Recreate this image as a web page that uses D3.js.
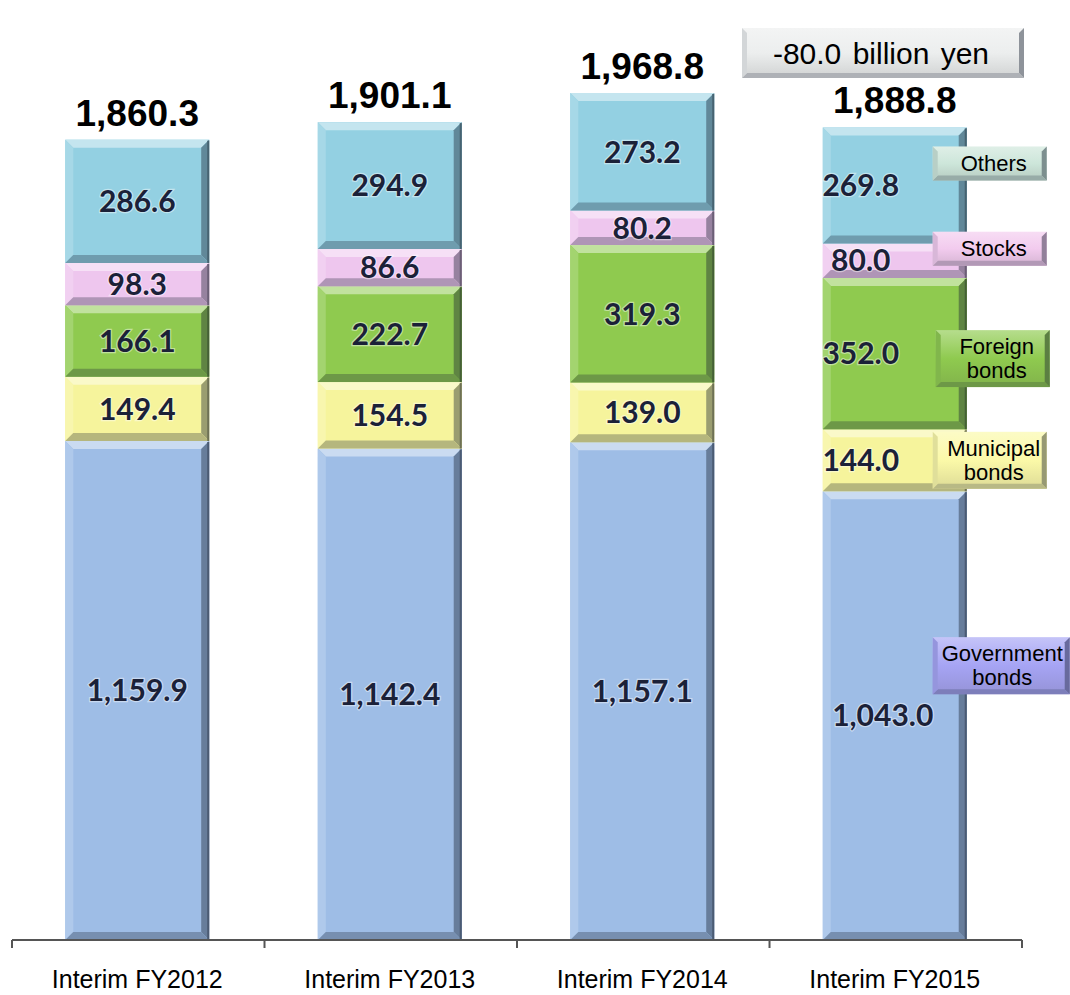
<!DOCTYPE html>
<html>
<head>
<meta charset="utf-8">
<script src="https://cdn.jsdelivr.net/npm/d3@7"></script>
<style>
  html, body { margin: 0; padding: 0; background: #ffffff; }
  svg { display: block; }
</style>
</head>
<body>
<svg id="chart" width="1070" height="995"></svg>
<script>
// Holdings by asset type, billion yen (stack order: bottom to top)
const categories = ["Interim FY2012", "Interim FY2013", "Interim FY2014", "Interim FY2015"];
const seriesNames = ["Government bonds", "Municipal bonds", "Foreign bonds", "Stocks", "Others"];
const governmentBonds = [1159.9, 1142.4, 1157.1, 1043.0];
const municipalBonds  = [149.4, 154.5, 139.0, 144.0];
const foreignBonds    = [166.1, 222.7, 319.3, 352.0];
const stocks          = [98.3, 86.6, 80.2, 80.0];
const others          = [286.6, 294.9, 273.2, 269.8];
const totals          = [1860.3, 1901.1, 1968.8, 1888.8];

const seriesValues = [governmentBonds, municipalBonds, foreignBonds, stocks, others];

// Styling
const fills = ["#9ebde6", "#f6f49c", "#8fca4f", "#eec6ee", "#93d0e2"];
const tagFills = ["#a6a4f4", "#fbf9a8", "#8fca4f", "#f2cbee", "#cde6da"];
const tagLines = [["Government", "bonds"], ["Municipal", "bonds"], ["Foreign", "bonds"], ["Stocks"], ["Others"]];
const tagShift = [-50, 0, 5, -12, -22];   // vertical nudge of series tags next to the last bar

const svg = d3.select("#chart");

const locale = d3.formatLocale({ decimal: ".", thousands: ",", grouping: [3], currency: ["", ""], minus: "-" });
const fmt = locale.format(",.1f");

const x = d3.scaleBand()
  .domain(categories)
  .range([12, 1020])
  .paddingInner(0.43)
  .paddingOuter(0.211);

const y = d3.scaleLinear()
  .domain([0, 1968.8])
  .range([940, 93]);

// Build stacked rows
const rows = categories.map((c, i) => {
  const r = { category: c };
  seriesNames.forEach((s, k) => { r[s] = seriesValues[k][i]; });
  return r;
});
const stacked = d3.stack().keys(seriesNames)(rows);

const mix = (a, b, t) => d3.interpolateRgb(a, b)(t);

// Bevelled segment drawing
function bevelSegment(g, x0, y0, x1, y1, color, b) {
  const h = y1 - y0;
  const bb = Math.min(b, h / 2.2);
  g.append("rect").attr("x", x0).attr("y", y0).attr("width", x1 - x0).attr("height", h)
    .attr("fill", color);
  // top
  g.append("polygon")
    .attr("points", [[x0, y0], [x1, y0], [x1 - bb, y0 + bb], [x0 + bb, y0 + bb]].join(" "))
    .attr("fill", mix(color, "#ffffff", 0.45));
  // left
  g.append("polygon")
    .attr("points", [[x0, y0], [x0 + bb, y0 + bb], [x0 + bb, y1 - bb], [x0, y1]].join(" "))
    .attr("fill", mix(color, "#ffffff", 0.18));
  // right
  g.append("polygon")
    .attr("points", [[x1, y0], [x1, y1], [x1 - bb, y1 - bb], [x1 - bb, y0 + bb]].join(" "))
    .attr("fill", mix(color, "#1c2433", 0.42));
  // bottom
  g.append("polygon")
    .attr("points", [[x0, y1], [x1, y1], [x1 - bb, y1 - bb], [x0 + bb, y1 - bb]].join(" "))
    .attr("fill", mix(color, "#1c2433", 0.3));
  // dark outer right edge
  g.append("line").attr("x1", x1 - 1).attr("x2", x1 - 1).attr("y1", y0 + 1).attr("y2", y1)
    .attr("stroke", mix(color, "#141a26", 0.6)).attr("stroke-width", 2);
}

const barsG = svg.append("g");
stacked.forEach((layer, k) => {
  layer.forEach((d, i) => {
    const c = categories[i];
    const x0 = x(c), x1 = x(c) + x.bandwidth();
    bevelSegment(barsG.append("g"), x0, y(d[1]), x1, y(d[0]), fills[k], 8);
  });
});

// Value labels inside segments
const labelsG = svg.append("g")
  .attr("font-family", "Lato, 'Open Sans', sans-serif")
  .attr("font-weight", 700)
  .attr("font-size", 30)
  .attr("fill", "#1b2138")
  .attr("text-anchor", "middle");
const lastIdx = categories.length - 1;
stacked.forEach((layer, k) => {
  layer.forEach((d, i) => {
    const c = categories[i];
    let cx = x(c) + x.bandwidth() / 2;
    if (i === lastIdx) cx += (k === 0 ? -12 : -34);
    const cy = (y(d[0]) + y(d[1])) / 2;
    labelsG.append("text")
      .attr("x", cx).attr("y", cy)
      .attr("dy", "0.36em")
      .attr("stroke", "#ffffff").attr("stroke-opacity", 0.45).attr("stroke-width", 2.5)
      .attr("paint-order", "stroke")
      .text(fmt(d.data[seriesNames[k]]));
  });
});

// Totals above bars
svg.append("g")
  .attr("font-family", "'Liberation Sans', Arial, sans-serif")
  .attr("font-weight", 700)
  .attr("font-size", 37)
  .attr("fill", "#000")
  .attr("text-anchor", "middle")
  .selectAll("text")
  .data(totals)
  .join("text")
  .attr("x", (d, i) => x(categories[i]) + x.bandwidth() / 2)
  .attr("y", d => y(d) - 14)
  .text(d => fmt(d));

// Axis line with boundary ticks
const step = x.step();
const axisG = svg.append("g").attr("stroke", "#555").attr("stroke-width", 2);
const x0Axis = x(categories[0]) - x.paddingOuter() * step;
axisG.append("line")
  .attr("x1", x0Axis).attr("x2", x0Axis + step * categories.length)
  .attr("y1", y(0)).attr("y2", y(0));
d3.range(categories.length + 1).forEach(i => {
  const tx = x0Axis + i * step;
  axisG.append("line").attr("x1", tx).attr("x2", tx).attr("y1", y(0)).attr("y2", y(0) + 8);
});

// Category labels
svg.append("g")
  .attr("font-family", "'Liberation Sans', Arial, sans-serif")
  .attr("font-size", 25)
  .attr("fill", "#000")
  .attr("text-anchor", "middle")
  .selectAll("text")
  .data(categories)
  .join("text")
  .attr("x", d => x(d) + x.bandwidth() / 2)
  .attr("y", 988)
  .text(d => d);

// Series tags next to the last bar
const defs = svg.append("defs");
function tagBox(g, bx, by, bw, bh, color) {
  const id = "tg" + Math.round(bx) + "_" + Math.round(by);
  const grad = defs.append("linearGradient").attr("id", id).attr("x1", 0).attr("y1", 0).attr("x2", 0).attr("y2", 1);
  grad.append("stop").attr("offset", 0).attr("stop-color", mix(color, "#ffffff", 0.35));
  grad.append("stop").attr("offset", 0.5).attr("stop-color", color);
  grad.append("stop").attr("offset", 1).attr("stop-color", mix(color, "#333", 0.15));
  g.append("rect").attr("x", bx).attr("y", by).attr("width", bw).attr("height", bh)
    .attr("fill", `url(#${id})`);
  const b = 5;
  g.append("polygon")
    .attr("points", [[bx + bw, by], [bx + bw, by + bh], [bx + bw - b, by + bh - b], [bx + bw - b, by + b]].join(" "))
    .attr("fill", mix(color, "#1c2433", 0.45));
  g.append("polygon")
    .attr("points", [[bx, by + bh], [bx + bw, by + bh], [bx + bw - b, by + bh - b], [bx + b, by + bh - b]].join(" "))
    .attr("fill", mix(color, "#1c2433", 0.3));
  g.append("polygon")
    .attr("points", [[bx, by], [bx + b, by + b], [bx + b, by + bh - b], [bx, by + bh]].join(" "))
    .attr("fill", mix(color, "#1c2433", 0.12));
}

const tagsG = svg.append("g");
const lastBarRight = x(categories[lastIdx]) + x.bandwidth();
stacked.forEach((layer, k) => {
  const d = layer[lastIdx];
  const cy = (y(d[0]) + y(d[1])) / 2 + tagShift[k];
  const lines = tagLines[k];
  const bh = lines.length === 1 ? 34 : 57;
  const bw = k === 0 ? 137 : 114;
  const bx = lastBarRight - 34 + (k === 2 ? 3 : 0);
  const by = cy - bh / 2;
  const g = tagsG.append("g");
  tagBox(g, bx, by, bw, bh, tagFills[k]);
  const t = g.append("text")
    .attr("font-family", "'Liberation Sans', Arial, sans-serif")
    .attr("font-size", 22)
    .attr("fill", "#000")
    .attr("text-anchor", "middle");
  lines.forEach((ln, j) => {
    t.append("tspan")
      .attr("x", bx + bw / 2 + (k === 0 ? 1 : 4))
      .attr("y", cy + (j - (lines.length - 1) / 2) * 24 + 7.5)
      .text(ln);
  });
});

// Change between the last two periods
const change = totals[lastIdx] - totals[lastIdx - 1];
const cg = svg.append("g");
tagBox(cg, 742, 28, 282, 50, "#eceeee");
cg.append("text")
  .attr("x", 742 + 282 / 2 - 2).attr("y", 64)
  .attr("font-family", "'Liberation Sans', Arial, sans-serif")
  .attr("font-size", 30)
  .attr("word-spacing", 3)
  .attr("fill", "#000")
  .attr("text-anchor", "middle")
  .text(`${fmt(change)} billion yen`);
</script>
</body>
</html>
